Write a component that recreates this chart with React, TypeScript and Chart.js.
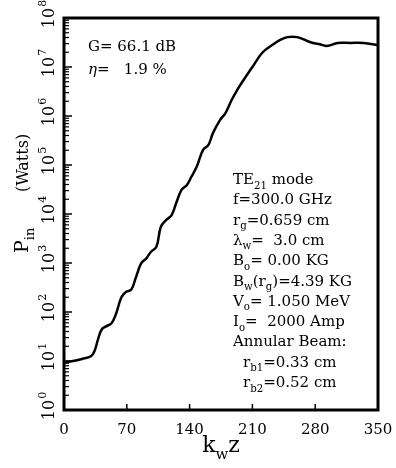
import React, { useEffect, useRef } from "react";
import { Chart, registerables } from "chart.js";

Chart.register(...registerables);

// ---- data ----
const kwz = [0, 10, 20, 30, 34, 38, 42, 47, 53, 58, 64, 69, 75, 80, 86, 92, 97, 103, 108, 114, 120, 125, 131, 137, 142, 148, 155, 161, 166, 174, 180, 187, 193, 200, 210, 221, 232, 240, 249, 260, 274, 285, 294, 305, 319, 334, 350];
const pinWatts = [9.5, 10, 11, 12.5, 16, 28, 44, 51, 59, 92, 200, 257, 288, 500, 980, 1260, 1700, 2140, 5500, 7600, 9500, 16600, 31000, 39000, 57500, 93000, 204000, 257000, 447000, 832000, 1150000, 2140000, 3390000, 5370000, 1.0e7, 1.95e7, 2.8e7, 3.5e7, 4.07e7, 4.07e7, 3.24e7, 2.9e7, 2.7e7, 3.1e7, 3.1e7, 3.1e7, 2.8e7];
const xTickValues = [0, 70, 140, 210, 280, 350];
const yExponents = [0, 1, 2, 3, 4, 5, 6, 7, 8];

type Seg = [string, number?]; // 0 normal, 1 subscript, 2 superscript, 3 italic
const gainLines: Seg[][] = [
  [["G= 66.1 dB"]],
  [["η", 3], ["=   1.9 %"]],
];
const paramLines: Seg[][] = [
  [["TE"], ["21", 1], [" mode"]],
  [["f=300.0 GHz"]],
  [["r"], ["g", 1], ["=0.659 cm"]],
  [["λ"], ["w", 1], ["=  3.0 cm"]],
  [["B"], ["o", 1], ["= 0.00 KG"]],
  [["B"], ["w", 1], ["(r"], ["g", 1], [")=4.39 KG"]],
  [["V"], ["o", 1], ["= 1.050 MeV"]],
  [["I"], ["o", 1], ["=  2000 Amp"]],
  [["Annular Beam:"]],
  [["r"], ["b1", 1], ["=0.33 cm"]],
  [["r"], ["b2", 1], ["=0.52 cm"]],
];
const paramIndent = [0, 0, 0, 0, 0, 0, 0, 0, 0, 10, 10];

const SERIF = "'DejaVu Serif', 'Liberation Serif', serif";

function drawRich(ctx: CanvasRenderingContext2D, segs: Seg[], x: number, y: number, size: number, family: string) {
  let cx = x;
  for (const [t, k] of segs) {
    const small = k === 1 || k === 2;
    const s = small ? size * 0.68 : size;
    ctx.font = `${k === 3 ? "italic " : ""}${s}px ${family}`;
    const dy = k === 1 ? size * 0.3 : k === 2 ? -size * 0.42 : 0;
    ctx.fillText(t, cx, y + dy);
    cx += ctx.measureText(t).width;
  }
  return cx - x;
}

function measureRich(ctx: CanvasRenderingContext2D, segs: Seg[], size: number, family: string) {
  let w = 0;
  for (const [t, k] of segs) {
    const small = k === 1 || k === 2;
    ctx.font = `${k === 3 ? "italic " : ""}${small ? size * 0.68 : size}px ${family}`;
    w += ctx.measureText(t).width;
  }
  return w;
}

const decor = {
  id: "decor",
  afterDraw(chart: any) {
    const ctx: CanvasRenderingContext2D = chart.ctx;
    const { left, right, top, bottom } = chart.chartArea;
    const xs = chart.scales.x;
    const ys = chart.scales.y;
    ctx.save();
    ctx.fillStyle = "#000";
    ctx.strokeStyle = "#000";
    // frame
    ctx.lineWidth = 3;
    ctx.strokeRect(left, top, right - left, bottom - top);
    // x ticks
    ctx.lineWidth = 1.5;
    ctx.textAlign = "center";
    ctx.textBaseline = "alphabetic";
    for (const v of xTickValues) {
      const px = xs.getPixelForValue(v);
      ctx.beginPath();
      ctx.moveTo(px, bottom);
      ctx.lineTo(px, bottom - 6);
      ctx.stroke();
      ctx.font = `15px ${SERIF}`;
      ctx.fillText(String(v), px, bottom + 24);
    }
    // y ticks
    for (const e of yExponents) {
      const base = Math.pow(10, e);
      const py = ys.getPixelForValue(base);
      ctx.lineWidth = 1.5;
      ctx.beginPath();
      ctx.moveTo(left, py);
      ctx.lineTo(left + 8, py);
      ctx.stroke();
      if (e < 8) {
        for (let k = 2; k <= 9; k++) {
          const pm = ys.getPixelForValue(base * k);
          ctx.lineWidth = 1.2;
          ctx.beginPath();
          ctx.moveTo(left, pm);
          ctx.lineTo(left + 5, pm);
          ctx.stroke();
        }
      }
      // rotated label 10^e
      ctx.save();
      ctx.translate(54, py);
      ctx.rotate(-Math.PI / 2);
      ctx.textAlign = "left";
      ctx.font = `16px ${SERIF}`;
      const w10 = ctx.measureText("10").width;
      ctx.fillText("10", -w10 / 2, 0);
      ctx.font = `11px ${SERIF}`;
      ctx.fillText(String(e), w10 / 2 + 1, -8);
      ctx.restore();
    }
    // y title: P_in ... (Watts)
    ctx.save();
    ctx.translate(28, 253);
    ctx.rotate(-Math.PI / 2);
    ctx.textAlign = "left";
    drawRich(ctx, [["P"], ["in", 1]], 0, 0, 19, SERIF);
    ctx.font = `16px ${SERIF}`;
    ctx.fillText("(Watts)", 253 - 192, 0);
    ctx.restore();
    // x title
    ctx.textAlign = "left";
    const xt: Seg[] = [["k"], ["w", 1], ["z"]];
    const xw = measureRich(ctx, xt, 22, SERIF);
    drawRich(ctx, xt, 221 - xw / 2, 452, 22, SERIF);
    // gain text
    gainLines.forEach((l, i) => drawRich(ctx, l, 88, 51 + i * 23, 15, SERIF));
    // params
    paramLines.forEach((l, i) => drawRich(ctx, l, 233 + paramIndent[i], 184 + i * 20.3, 15, SERIF));
    ctx.restore();
  },
};

export default function App() {
  const ref = useRef<HTMLCanvasElement>(null);
  useEffect(() => {
    if (!ref.current) return;
    const chart = new Chart(ref.current, {
      type: "line",
      data: {
        datasets: [
          {
            data: kwz.map((x, i) => ({ x, y: pinWatts[i] })),
            borderColor: "#000",
            borderWidth: 2.5,
            pointRadius: 0,
            tension: 0.4,
            fill: false,
          },
        ],
      },
      options: {
        animation: false,
        responsive: false,
        maintainAspectRatio: false,
        layout: { padding: { left: 64, right: 18, top: 18, bottom: 58 } },
        plugins: { legend: { display: false }, tooltip: { enabled: false } },
        scales: {
          x: {
            type: "linear",
            min: 0,
            max: 350,
            ticks: { display: false },
            grid: { display: false, drawTicks: false },
            border: { display: false },
            title: { display: false },
          },
          y: {
            type: "logarithmic",
            min: 1,
            max: 1e8,
            ticks: { display: false },
            grid: { display: false, drawTicks: false },
            border: { display: false },
            title: { display: false },
          },
        },
      },
      plugins: [decor],
    });
    return () => chart.destroy();
  }, []);
  return (
    <div style={{ position: "fixed", left: 0, top: 0, width: 396, height: 468, background: "#fff" }}>
      <canvas ref={ref} width={396} height={468} style={{ width: 396, height: 468, display: "block" }} />
    </div>
  );
}
